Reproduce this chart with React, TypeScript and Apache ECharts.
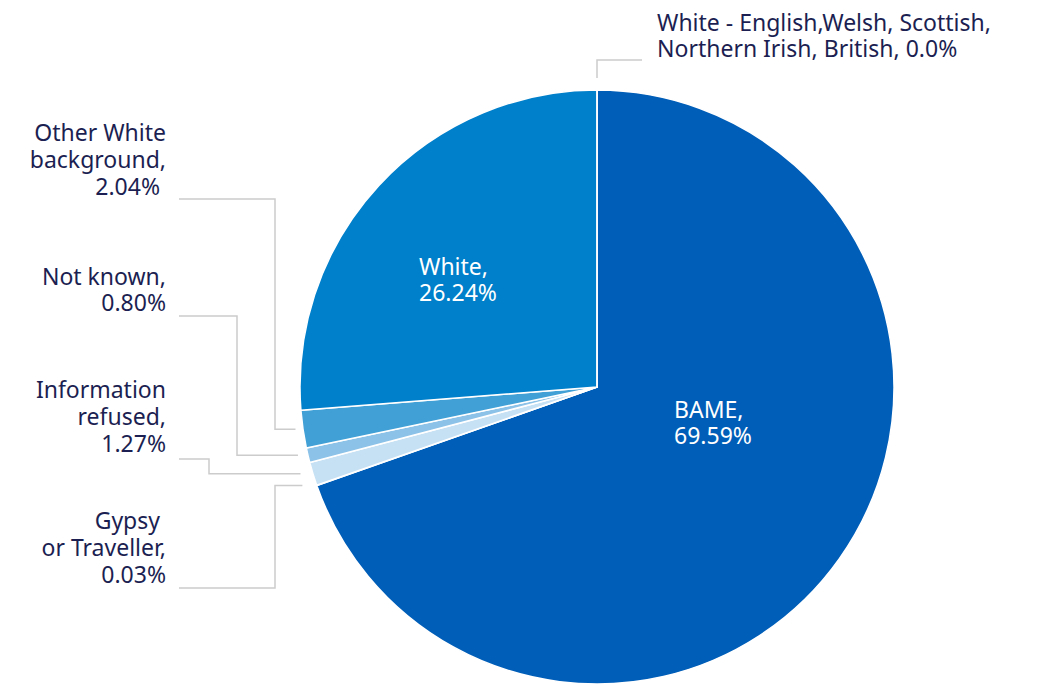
import React, { useEffect, useRef } from 'react';
import * as echarts from 'echarts';

const categories = [
  'BAME',
  'Gypsy or Traveller',
  'Information refused',
  'Not known',
  'Other White background',
  'White',
  'White - English,Welsh, Scottish, Northern Irish, British',
];
const values = [69.59, 0.03, 1.27, 0.8, 2.04, 26.24, 0.0];
const labelTexts = [
  'BAME,\n69.59%',
  'Gypsy\u00a0\nor Traveller,\n0.03%',
  'Information\nrefused,\n1.27%',
  'Not known,\n0.80%',
  'Other White\nbackground,\n2.04%\u00a0',
  'White,\n26.24%',
  'White - English,Welsh, Scottish,\nNorthern Irish, British, 0.0%',
];
const colors = ['#005EB8', '#C6E0F4', '#C6E0F4', '#8CC2E8', '#41A0D6', '#007FCA', '#007FCA'];

// layout (positions of labels and leader-line elbows)
const CX = 597;
const CY = 387;
const R = 297;
const FONT = 'Noto Sans';
const FONT_SIZE = 23;
const LINE_H = 26.8;
const labelPos: Record<number, { x: number; y: number; align: string; color: string }> = {
  0: { x: 674, y: 422, align: 'left', color: '#ffffff' },
  1: { x: 166, y: 547, align: 'right', color: '#1c1f52' },
  2: { x: 166, y: 416, align: 'right', color: '#1c1f52' },
  3: { x: 166, y: 289, align: 'right', color: '#1c1f52' },
  4: { x: 166, y: 159, align: 'right', color: '#1c1f52' },
  5: { x: 419, y: 279, align: 'left', color: '#ffffff' },
  6: { x: 657, y: 35, align: 'left', color: '#1c1f52' },
};
// left leader lines: [startX, startY, elbowX]
const leftLeaders: Record<number, [number, number, number]> = {
  1: [179, 588, 275],
  2: [179, 459, 209],
  3: [179, 316, 237],
  4: [179, 199, 275],
};

export default function App() {
  const ref = useRef<HTMLDivElement>(null);
  useEffect(() => {
    document.body.style.margin = '0';
    if (!ref.current) return;
    const chart = echarts.init(ref.current, undefined, { renderer: 'svg' });

    const total = values.reduce((a, b) => a + b, 0);
    const mids: number[] = [];
    let acc = 0;
    values.forEach((v) => {
      mids.push(((acc + v / 2) / total) * 2 * Math.PI);
      acc += v;
    });

    const graphics: any[] = [];
    Object.keys(leftLeaders).forEach((k) => {
      const i = Number(k);
      const [sx, sy, ex] = leftLeaders[i];
      const a = mids[i];
      const edgeX = CX + R * Math.sin(a);
      const yEnd = CY - R * Math.cos(a);
      const leftX = CX - R;
      const endX = leftX - 6 + 0.5 * (edgeX - leftX);
      graphics.push({
        type: 'polyline',
        silent: true,
        shape: { points: [[sx, sy], [ex, sy], [ex, yEnd], [endX, yEnd]] },
        style: { stroke: '#cccccc', lineWidth: 1.5, fill: 'none' },
      });
    });
    {
      const a = mids[6];
      const px = CX + R * Math.sin(a);
      const py = CY - (R + 12) * Math.cos(a);
      graphics.push({
        type: 'polyline',
        silent: true,
        shape: { points: [[px, py], [px, 60], [642, 60]] },
        style: { stroke: '#cccccc', lineWidth: 1.5, fill: 'none' },
      });
    }

    chart.setOption({
      animation: false,
      backgroundColor: '#ffffff',
      textStyle: { fontFamily: FONT, fontSize: FONT_SIZE },
      graphic: graphics,
      series: [
        {
          type: 'pie',
          center: [CX, CY],
          radius: R,
          startAngle: 90,
          clockwise: true,
          avoidLabelOverlap: false,
          itemStyle: { borderColor: '#ffffff', borderWidth: 1.5 },
          emphasis: { disabled: true },
          label: {
            show: true,
            position: 'inside',
            fontFamily: FONT,
            fontSize: FONT_SIZE,
            lineHeight: LINE_H,
            formatter: (p: any) => labelTexts[p.dataIndex],
          },
          labelLine: { show: false },
          labelLayout: (p: any) => {
            const lp = labelPos[p.dataIndex];
            return { x: lp.x, y: lp.y, align: lp.align, verticalAlign: 'middle' };
          },
          data: categories.map((name, i) => ({
            name,
            value: values[i],
            itemStyle: { color: colors[i] },
            label: { color: labelPos[i].color, align: labelPos[i].align },
          })),
        },
      ],
    });
    return () => chart.dispose();
  }, []);
  return <div ref={ref} style={{ width: 1039, height: 684 }} />;
}
